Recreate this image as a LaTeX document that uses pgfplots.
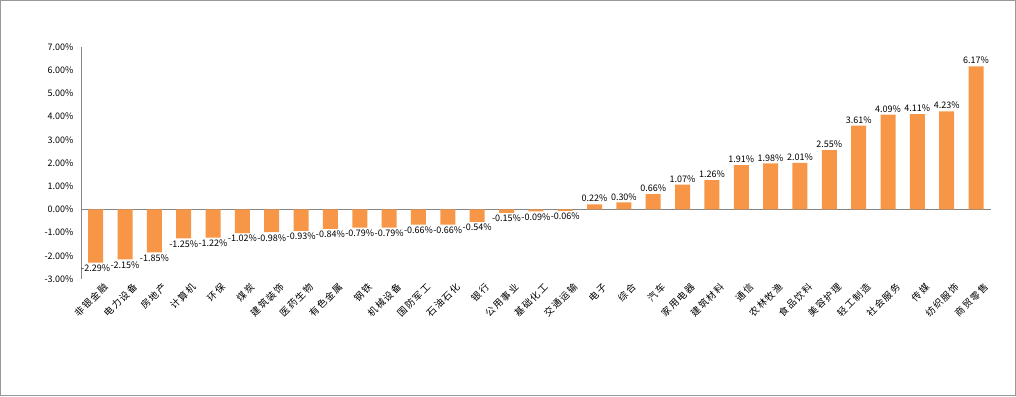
\documentclass[border=0pt]{standalone}
\usepackage{fontspec}
\setmainfont{Noto Sans CJK SC}
\newfontfamily\xlabfont[LetterSpace=15]{Noto Sans CJK SC}
\usepackage{pgfplots}
\pgfplotsset{compat=1.18}
\definecolor{barorange}{HTML}{F79646}
\definecolor{axisgray}{HTML}{868686}
\pgfplotstableread{
x y
0 -2.29
1 -2.15
2 -1.85
3 -1.25
4 -1.22
5 -1.02
6 -0.98
7 -0.93
8 -0.84
9 -0.79
10 -0.79
11 -0.66
12 -0.66
13 -0.54
14 -0.15
15 -0.09
16 -0.06
17 0.22
18 0.30
19 0.66
20 1.07
21 1.26
22 1.91
23 1.98
24 2.01
25 2.55
26 3.61
27 4.09
28 4.11
29 4.23
30 6.17
}\datatable
\begin{document}
\begin{tikzpicture}
\path[use as bounding box] (0,0) rectangle (1016pt,396pt);
\draw[gray!80, line width=1pt] (0.5pt,0.5pt) rectangle (1015.5pt,395.5pt);
\begin{axis}[
  at={(81pt,117pt)}, anchor=south west,
  scale only axis, width=909.7pt, height=232pt,
  xmin=-0.5, xmax=30.5, ymin=-3, ymax=7,
  axis lines*=left,
  x axis line style={draw=none},
  y axis line style={draw=axisgray, line width=1pt},
  major tick length=0pt,
  ytick={-3,-2,...,7},
  yticklabel={\pgfmathprintnumber[fixed,fixed zerofill,precision=2]{\tick}\%},
  /pgf/number format/assume math mode=true,
  yticklabel style={font=\fontsize{9}{10}\selectfont, xshift=-4pt},
  extra y ticks={0},
  extra y tick labels={},
  extra y tick style={grid=major, major grid style={draw=axisgray, line width=1pt}},
  xtick={0,...,30},
  xticklabels={非银金融,电力设备,房地产,计算机,环保,煤炭,建筑装饰,医药生物,有色金属,钢铁,机械设备,国防军工,石油石化,银行,公用事业,基础化工,交通运输,电子,综合,汽车,家用电器,建筑材料,通信,农林牧渔,食品饮料,美容护理,轻工制造,社会服务,传媒,纺织服饰,商贸零售},
  xticklabel style={font=\xlabfont\fontsize{9.5}{10}\selectfont, rotate=45, anchor=north east, inner sep=1pt, yshift=-6pt, xshift=4pt},
  ybar, bar width=15pt,
  nodes near coords={\pgfmathprintnumber[fixed,fixed zerofill,precision=2]{\pgfplotspointmeta}\%},
  nodes near coords align={vertical},
  every node near coord/.append style={font=\fontsize{9}{10}\selectfont, black, inner sep=2pt},
  clip=false,
]
\addplot[fill=barorange, draw=none] table[x=x, y=y] {\datatable};
\end{axis}
\end{tikzpicture}
\end{document}
